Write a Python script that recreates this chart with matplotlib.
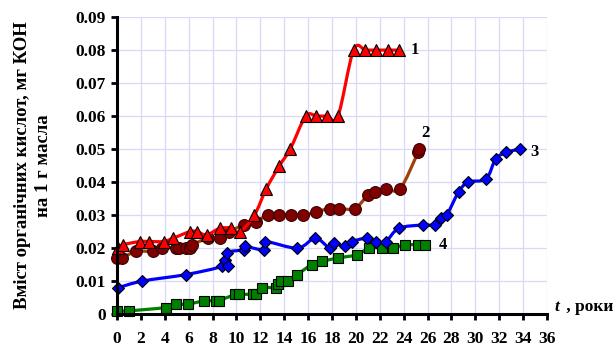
import numpy as np
import matplotlib as mpl
mpl.use('Agg')
import matplotlib.pyplot as plt
from matplotlib.path import Path
from matplotlib.patches import PathPatch

plt.rcParams['font.family'] = ['Liberation Serif', 'DejaVu Serif']
plt.rcParams['font.weight'] = 'bold'

# series 1 - red triangles
t1 = [0.1, 0.5, 1.9, 2.7, 3.9, 4.7, 6.1, 6.7, 7.5, 8.6, 9.5, 10.3, 11.5, 12.5, 13.6, 14.5,
      15.8, 16.7, 17.6, 18.5, 19.8, 20.8, 21.7, 22.7, 23.6]
c1 = [0.020, 0.021, 0.022, 0.022, 0.022, 0.023, 0.025, 0.025, 0.024, 0.026, 0.026, 0.025, 0.030,
      0.038, 0.045, 0.050, 0.060, 0.060, 0.060, 0.060, 0.080, 0.080, 0.080, 0.080, 0.080]

# series 2 - brown circles
t2 = [0.0, 0.4, 1.6, 3.0, 3.8, 4.9, 5.2, 5.8, 6.1, 6.3, 7.6, 8.6, 9.4, 10.6, 11.6, 12.6, 13.6,
      14.6, 15.6, 16.7, 17.8, 18.6, 19.9, 21.0, 21.6, 22.5, 23.7, 25.2, 25.3]
c2 = [0.017, 0.017, 0.019, 0.019, 0.020, 0.020, 0.020, 0.020, 0.020, 0.021, 0.023, 0.023, 0.025,
      0.027, 0.028, 0.030, 0.030, 0.030, 0.030, 0.031, 0.032, 0.032, 0.032, 0.036, 0.037, 0.038,
      0.038, 0.049, 0.050]

# series 3 - blue diamonds
t3 = [0.1, 2.1, 5.8, 8.8, 9.0, 9.3, 9.2, 10.6, 10.7, 12.3, 12.4, 15.1, 16.6, 17.8, 18.2, 19.1,
      19.7, 20.9, 21.7, 22.5, 23.6, 25.6, 26.6, 27.1, 27.6, 28.6, 29.4, 30.9, 31.7, 32.6, 33.7]
c3 = [0.008, 0.010, 0.012, 0.0145, 0.0165, 0.0145, 0.0185, 0.0195, 0.0205, 0.0195, 0.022, 0.020,
      0.023, 0.020, 0.0215, 0.0205, 0.022, 0.023, 0.022, 0.022, 0.026, 0.027, 0.027, 0.029,
      0.030, 0.037, 0.040, 0.041, 0.047, 0.049, 0.050]

# series 4 - green squares
t4 = [0.0, 1.0, 4.1, 4.9, 5.9, 7.3, 8.3, 8.5, 9.9, 10.2, 11.4, 11.6, 12.1, 13.3, 13.5, 13.7,
      14.3, 15.1, 16.3, 17.2, 18.5, 20.1, 21.1, 22.2, 23.1, 24.1, 25.2, 25.8]
c4 = [0.001, 0.001, 0.002, 0.003, 0.003, 0.004, 0.004, 0.004, 0.006, 0.006, 0.006, 0.006, 0.008,
      0.008, 0.009, 0.010, 0.010, 0.012, 0.015, 0.016, 0.017, 0.018, 0.020, 0.020, 0.020, 0.021,
      0.021, 0.021]


def smooth_path(x, y):
    # excel-like smoothed line: cubic bezier segments through the data points
    p = np.column_stack([x, y]).astype(float)
    n = len(p)
    verts = [p[0]]
    codes = [Path.MOVETO]
    for i in range(n - 1):
        p0 = p[i - 1] if i > 0 else p[i]
        p3 = p[i + 2] if i + 2 < n else p[i + 1]
        cp1 = p[i] + (p[i + 1] - p0) / 6.0
        cp2 = p[i + 1] - (p3 - p[i]) / 6.0
        verts += [cp1, cp2, p[i + 1]]
        codes += [Path.CURVE4] * 3
    return Path(verts, codes)


fig = plt.figure(figsize=(6.16, 3.49), dpi=100)
ax = fig.add_axes([0.19, 0.100, 0.698, 0.851])

series = [
    (t1, c1, '#ff0000', '^', 9, '#ff0000', 'black', 5),
    (t2, c2, '#a0400a', 'o', 8.5, '#800000', '#3a0000', 4),
    (t3, c3, '#0000ff', 'D', 6.5, '#0000ff', 'black', 3),
    (t4, c4, '#008000', 's', 7.5, '#008000', 'black', 2),
]
for x, y, col, mk, ms, fc, ec, z in series:
    ax.add_patch(PathPatch(smooth_path(x, y), fill=False, edgecolor=col, lw=2.3,
                           capstyle='round', joinstyle='round', zorder=z, clip_on=False))
    ax.plot(x, y, ls='none', marker=mk, ms=ms, mfc=fc, mec=ec, mew=0.8, zorder=z + 0.5,
            clip_on=False)

ax.text(24.6, 0.080, '1', fontsize=12, va='center', ha='left')
ax.text(25.5, 0.055, '2', fontsize=12, va='center', ha='left')
ax.text(34.6, 0.049, '3', fontsize=12, va='center', ha='left')
ax.text(26.9, 0.021, '4', fontsize=12, va='center', ha='left')

ax.set_xlim(0, 36)
ax.set_ylim(0, 0.09)
ax.set_xticks(np.arange(0, 37, 2))
ax.set_yticks(np.arange(0, 0.091, 0.01))
ax.set_yticklabels(['0'] + ['{:.2f}'.format(v) for v in np.arange(0.01, 0.091, 0.01)])
ax.tick_params(axis='both', labelsize=12.5, direction='out', length=4, width=2)
ax.tick_params(axis='x', pad=8)
ax.tick_params(axis='y', pad=4)
ax.grid(True, color='#d8d8f8', lw=0.9)
ax.set_axisbelow(True)
for s in ['top', 'right']:
    ax.spines[s].set_visible(False)
for s in ['left', 'bottom']:
    ax.spines[s].set_linewidth(2.2)
    ax.spines[s].set_zorder(10)

ax.set_ylabel('Вміст органічних кислот, мг КОН\nна 1 г масла', fontsize=13.5, weight='bold',
              labelpad=17, linespacing=1.3)
fig.text(0.900, 0.098, 't', fontsize=12.5, style='italic', weight='bold', va='bottom', ha='left')
fig.text(0.912, 0.098, ' , роки', fontsize=12.5, weight='bold', va='bottom', ha='left')

plt.savefig('out.png', dpi=100)
